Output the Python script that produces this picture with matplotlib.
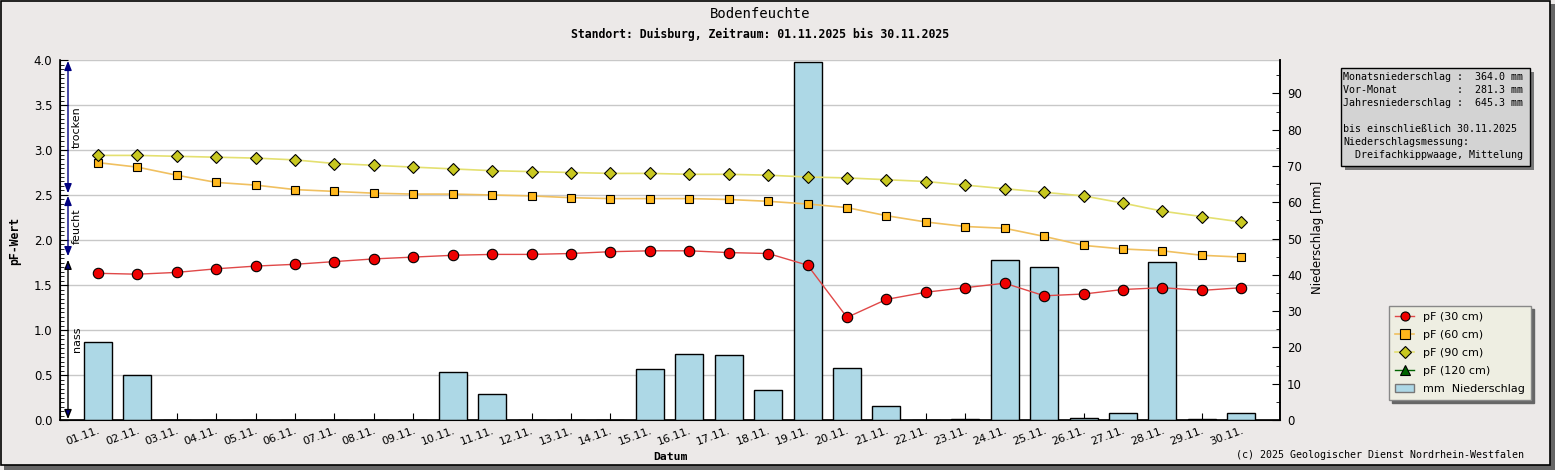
import matplotlib
matplotlib.use("Agg")
import matplotlib.pyplot as plt
from matplotlib.patches import Rectangle

# Tageswerte November 2025
days = list(range(1, 31))
day_labels = ["%02d.11." % d for d in days]

pf_30 = [1.63, 1.62, 1.64, 1.68, 1.71, 1.73, 1.76, 1.79, 1.81, 1.83,
         1.84, 1.84, 1.85, 1.87, 1.88, 1.88, 1.86, 1.85, 1.72, 1.14,
         1.34, 1.42, 1.47, 1.52, 1.38, 1.40, 1.45, 1.47, 1.44, 1.47]
pf_60 = [2.86, 2.81, 2.72, 2.64, 2.61, 2.56, 2.54, 2.52, 2.51, 2.51,
         2.50, 2.49, 2.47, 2.46, 2.46, 2.46, 2.45, 2.43, 2.40, 2.36,
         2.27, 2.20, 2.15, 2.13, 2.04, 1.94, 1.90, 1.88, 1.83, 1.81]
pf_90 = [2.94, 2.94, 2.93, 2.92, 2.91, 2.89, 2.85, 2.83, 2.81, 2.79,
         2.77, 2.76, 2.75, 2.74, 2.74, 2.73, 2.73, 2.72, 2.70, 2.69,
         2.67, 2.65, 2.61, 2.57, 2.53, 2.49, 2.41, 2.32, 2.26, 2.20]
pf_120 = []
niederschlag = [21.4, 12.4, 0, 0, 0, 0, 0, 0, 0, 13.2,
                7.2, 0, 0, 0, 14.1, 18.2, 17.9, 8.3, 98.6, 14.3,
                3.9, 0, 0.3, 44.1, 42.1, 0.6, 1.9, 43.5, 0.3, 1.9]

# Bereiche am linken Rand: (unten, oben, Name, Linienfarbe)
bereiche = [(2.52, 3.99, "trocken", "navy"),
            (1.82, 2.49, "feucht", "navy"),
            (0.01, 1.78, "nass", "black")]

info = ("Monatsniederschlag :  364.0 mm\n"
        "Vor-Monat          :  281.3 mm\n"
        "Jahresniederschlag :  645.3 mm\n"
        "\n"
        "bis einschließlich 30.11.2025\n"
        "Niederschlagsmessung:\n"
        "  Dreifachkippwaage, Mittelung")

W, H = 1555, 470
bg = "#ECE9E8"
mono = "DejaVu Sans Mono"

fig = plt.figure(figsize=(W / 100, H / 100), dpi=100, facecolor=bg)

# Rahmen mit Schatten (hinter allem)
fig.patches.append(Rectangle((4 / W, 0), 1 - 4 / W, 5 / H, transform=fig.transFigure,
                             facecolor="#666666", edgecolor="none", zorder=-3))
fig.patches.append(Rectangle((1 - 5 / W, 0), 5 / W, 1 - 4 / H, transform=fig.transFigure,
                             facecolor="#666666", edgecolor="none", zorder=-3))
fig.patches.append(Rectangle((0.5 / W, 5.5 / H), 1549 / W, 464 / H, transform=fig.transFigure,
                             facecolor=bg, edgecolor="black", linewidth=1.2, zorder=-2))

rect = [60 / W, 50 / H, 1220 / W, 360 / H]
ax = fig.add_axes(rect)
ax.set_facecolor("white")
ax.set_xlim(0.04, 30.98)
ax.set_ylim(0, 4.0)
ax.set_yticks([0, 0.5, 1.0, 1.5, 2.0, 2.5, 3.0, 3.5, 4.0])
ax.set_yticks([i * 0.05 for i in range(81)], minor=True)
ax.yaxis.set_major_formatter(matplotlib.ticker.FormatStrFormatter("%.1f"))
ax.grid(axis="y", color="#C8C8C8", linewidth=1)
ax.set_axisbelow(True)
ax.set_xticks(days)
ax.set_xticklabels(day_labels, rotation=20, ha="right", va="top",
                   rotation_mode="anchor", fontsize=8)
ax.tick_params(axis="x", direction="in", length=5, pad=4)
ax.tick_params(axis="y", which="major", direction="in", length=6, labelsize=8.5, pad=5.5)
ax.tick_params(axis="y", which="minor", direction="in", length=3)
ax.spines["top"].set_visible(False)
for s in ("left", "bottom", "right"):
    ax.spines[s].set_linewidth(1.2)

# Niederschlag (rechte Achse)
axb = ax.twinx()
axb.set_ylim(0, 99.2)
bars = axb.bar(days, niederschlag, width=0.71, color="#ADD8E6",
               edgecolor="black", linewidth=1)
axb.set_yticks(range(0, 100, 10))
axb.set_yticks(range(5, 100, 10), minor=True)
axb.tick_params(axis="y", which="major", direction="in", length=6, labelsize=8.5, pad=5)
axb.tick_params(axis="y", which="minor", direction="in", length=3)
axb.spines["top"].set_visible(False)
axb.spines["right"].set_linewidth(1.2)

# pF-Kurven oberhalb der Balken
axl = ax.twinx()
axl.set_ylim(0, 4.0)
axl.axis("off")
l30, = axl.plot(days, pf_30, color="#E04848", linewidth=1, marker="o", markersize=7.5,
                markerfacecolor="#EE0000", markeredgecolor="black", markeredgewidth=0.8)
l60, = axl.plot(days, pf_60, color="#F0C060", linewidth=1.2, marker="s", markersize=6.3,
                markerfacecolor="#FFB81C", markeredgecolor="black", markeredgewidth=0.8)
l90, = axl.plot(days, pf_90, color="#E4E070", linewidth=1.2, marker="D", markersize=5.8,
                markerfacecolor="#C8C820", markeredgecolor="black", markeredgewidth=0.8)
l120, = axl.plot(pf_120, pf_120, color="#006400", linewidth=1, marker="^", markersize=7.5,
                 markerfacecolor="#006400", markeredgecolor="black", markeredgewidth=0.8)

# Bereichspfeile
tr = ax.get_yaxis_transform()
for lo, hi, name, col in bereiche:
    ax.annotate("", xy=(8 / 1220, hi), xytext=(8 / 1220, lo), xycoords=tr, textcoords=tr,
                arrowprops=dict(arrowstyle="<|-|>,head_length=0.55,head_width=0.22",
                                mutation_scale=10, edgecolor=col, facecolor="navy",
                                linewidth=1, shrinkA=0, shrinkB=0))
    ax.text(17 / 1220, (lo + hi) / 2, name, transform=tr, rotation=90,
            ha="center", va="center", fontsize=8)

# Texte
fig.text(760 / W, 1 - 14 / H, "Bodenfeuchte", ha="center", va="center",
         fontsize=10, family=mono)
fig.text(760 / W, 1 - 34 / H, "Standort: Duisburg, Zeitraum: 01.11.2025 bis 30.11.2025",
         ha="center", va="center", fontsize=8.3, family=mono, weight="bold")
fig.text(15 / W, 1 - 241 / H, "pF-Wert", rotation=90, ha="center", va="center",
         fontsize=8.3, family=mono, weight="bold")
fig.text(1317 / W, 1 - 237 / H, "Niederschlag [mm]", rotation=90, ha="center",
         va="center", fontsize=8.5)
fig.text(670 / W, 1 - 457 / H, "Datum", ha="center", va="center",
         fontsize=8.2, family=mono, weight="bold")
fig.text(1524 / W, 1 - 455 / H, "(c) 2025 Geologischer Dienst Nordrhein-Westfalen",
         ha="right", va="center", fontsize=7.2, family=mono)

# Infokasten
fig.patches.append(Rectangle((1345 / W, 1 - 170 / H), 189 / W, 98 / H, transform=fig.transFigure,
                             facecolor="#777777", edgecolor="none", zorder=1))
fig.patches.append(Rectangle((1341 / W, 1 - 166 / H), 189 / W, 98 / H, transform=fig.transFigure,
                             facecolor="#D3D3D3", edgecolor="black", linewidth=1, zorder=1))
fig.text(1343 / W, 1 - 72 / H, info, ha="left", va="top", fontsize=7.2,
         family=mono, linespacing=1.38, zorder=2)

# Legende
bar_handle = Rectangle((0, 0), 1, 1, facecolor="#ADD8E6", edgecolor="#777777")
leg = fig.legend([l30, l60, l90, l120, bar_handle],
                 ["pF (30 cm)", "pF (60 cm)", "pF (90 cm)", "pF (120 cm)", "mm  Niederschlag"],
                 loc="upper left", bbox_to_anchor=(1389 / W, 1 - 306 / H),
                 fontsize=8, frameon=True, fancybox=False,
                 shadow={"color": "#666666", "alpha": 1},
                 facecolor="#EEEEE2", edgecolor="#888888", framealpha=1,
                 handlelength=1.7, handletextpad=0.8, labelspacing=0.72,
                 borderpad=0.55, borderaxespad=0)
leg.get_frame().set_linewidth(1)
for h in leg.legend_handles[:4]:
    h.set_markersize(6.5)

fig.savefig("out.png", dpi=100, facecolor=bg)
